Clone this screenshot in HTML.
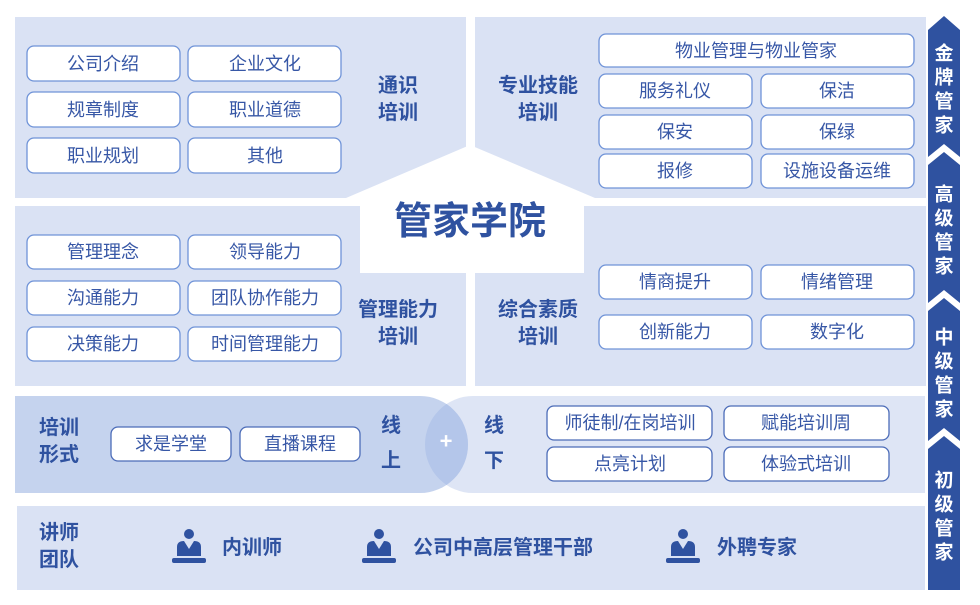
<!DOCTYPE html>
<html><head><meta charset="utf-8">
<style>
html,body{margin:0;padding:0;background:#fff;}
svg{display:block;}
text{font-family:"Liberation Sans","Noto Sans CJK SC",sans-serif;}
.b{fill:#fff;stroke:#6f93d8;stroke-width:1.3;}
.t{fill:#3757a6;font-size:18px;text-anchor:middle;dominant-baseline:central;}
.h{fill:#2f52a0;font-size:20px;font-weight:bold;text-anchor:middle;dominant-baseline:central;}
.v{fill:#fff;font-size:19px;font-weight:bold;text-anchor:middle;dominant-baseline:central;}
</style></head><body>
<svg width="980" height="605" viewBox="0 0 980 605" xmlns="http://www.w3.org/2000/svg">
<!-- panels -->
<rect x="15" y="17" width="451" height="181" fill="#dae2f4"/>
<rect x="475" y="17" width="451" height="181" fill="#dae2f4"/>
<rect x="15" y="206" width="451" height="180" fill="#dae2f4"/>
<rect x="475" y="206" width="451" height="180" fill="#dae2f4"/>
<!-- house -->
<polygon points="346,198 470,145 595,198" fill="#fff"/>
<rect x="360" y="196" width="224" height="77" fill="#fff"/>
<text x="470" y="222" fill="#2f52a0" font-size="38" font-weight="bold" text-anchor="middle" dominant-baseline="central">管家学院</text>

<!-- top-left boxes -->
<g>
<rect class="b" x="27" y="46" width="153" height="35" rx="7"/><text class="t" x="103" y="64">公司介绍</text>
<rect class="b" x="188" y="46" width="153" height="35" rx="7"/><text class="t" x="265" y="64">企业文化</text>
<rect class="b" x="27" y="92" width="153" height="35" rx="7"/><text class="t" x="103" y="110">规章制度</text>
<rect class="b" x="188" y="92" width="153" height="35" rx="7"/><text class="t" x="265" y="110">职业道德</text>
<rect class="b" x="27" y="138" width="153" height="35" rx="7"/><text class="t" x="103" y="156">职业规划</text>
<rect class="b" x="188" y="138" width="153" height="35" rx="7"/><text class="t" x="265" y="156">其他</text>
</g>
<text class="h" x="398" y="86">通识</text><text class="h" x="398" y="113">培训</text>
<text class="h" x="538" y="86">专业技能</text><text class="h" x="538" y="113">培训</text>

<!-- top-right boxes -->
<rect class="b" x="599" y="34" width="315" height="33" rx="7"/><text class="t" x="756" y="51">物业管理与物业管家</text>
<rect class="b" x="599" y="74" width="153" height="34" rx="7"/><text class="t" x="675" y="91">服务礼仪</text>
<rect class="b" x="761" y="74" width="153" height="34" rx="7"/><text class="t" x="837" y="91">保洁</text>
<rect class="b" x="599" y="115" width="153" height="34" rx="7"/><text class="t" x="675" y="132">保安</text>
<rect class="b" x="761" y="115" width="153" height="34" rx="7"/><text class="t" x="837" y="132">保绿</text>
<rect class="b" x="599" y="154" width="153" height="34" rx="7"/><text class="t" x="675" y="171">报修</text>
<rect class="b" x="761" y="154" width="153" height="34" rx="7"/><text class="t" x="837" y="171">设施设备运维</text>

<!-- middle-left boxes -->
<rect class="b" x="27" y="235" width="153" height="34" rx="7"/><text class="t" x="103" y="252">管理理念</text>
<rect class="b" x="188" y="235" width="153" height="34" rx="7"/><text class="t" x="265" y="252">领导能力</text>
<rect class="b" x="27" y="281" width="153" height="34" rx="7"/><text class="t" x="103" y="298">沟通能力</text>
<rect class="b" x="188" y="281" width="153" height="34" rx="7"/><text class="t" x="265" y="298">团队协作能力</text>
<rect class="b" x="27" y="327" width="153" height="34" rx="7"/><text class="t" x="103" y="344">决策能力</text>
<rect class="b" x="188" y="327" width="153" height="34" rx="7"/><text class="t" x="265" y="344">时间管理能力</text>
<text class="h" x="398" y="310">管理能力</text><text class="h" x="398" y="337">培训</text>
<text class="h" x="538" y="310">综合素质</text><text class="h" x="538" y="337">培训</text>

<!-- middle-right boxes -->
<rect class="b" x="599" y="265" width="153" height="34" rx="7"/><text class="t" x="675" y="282">情商提升</text>
<rect class="b" x="761" y="265" width="153" height="34" rx="7"/><text class="t" x="837" y="282">情绪管理</text>
<rect class="b" x="599" y="315" width="153" height="34" rx="7"/><text class="t" x="675" y="332">创新能力</text>
<rect class="b" x="761" y="315" width="153" height="34" rx="7"/><text class="t" x="837" y="332">数字化</text>

<!-- training row -->
<defs>
<clipPath id="lc"><path d="M15,396 H420 A48,48.5 0 0 1 420,493 H15 Z"/></clipPath>
</defs>
<path d="M473,396 H925 V493 H473 A48,48.5 0 0 1 473,396 Z" fill="#dee5f5"/>
<path d="M15,396 H420 A48,48.5 0 0 1 420,493 H15 Z" fill="#c5d3ee"/>
<path d="M473,396 H925 V493 H473 A48,48.5 0 0 1 473,396 Z" fill="#b4c6ea" clip-path="url(#lc)"/>
<text x="446" y="441" fill="#fff" font-size="22" font-weight="bold" text-anchor="middle" dominant-baseline="central">+</text>
<text class="h" x="59" y="428">培训</text><text class="h" x="59" y="455">形式</text>
<rect class="b" x="111" y="427" width="120" height="34" rx="7" style="stroke:#4c6cb8"/><text class="t" x="171" y="444">求是学堂</text>
<rect class="b" x="240" y="427" width="120" height="34" rx="7" style="stroke:#4c6cb8"/><text class="t" x="300" y="444">直播课程</text>
<text class="h" x="391" y="426">线</text><text class="h" x="391" y="461">上</text>
<text class="h" x="494" y="426">线</text><text class="h" x="494" y="461">下</text>
<rect class="b" x="547" y="406" width="165" height="34" rx="7" style="stroke:#4c6cb8"/><text class="t" x="630" y="423">师徒制/在岗培训</text>
<rect class="b" x="724" y="406" width="165" height="34" rx="7" style="stroke:#4c6cb8"/><text class="t" x="806" y="423">赋能培训周</text>
<rect class="b" x="547" y="447" width="165" height="34" rx="7" style="stroke:#4c6cb8"/><text class="t" x="630" y="464">点亮计划</text>
<rect class="b" x="724" y="447" width="165" height="34" rx="7" style="stroke:#4c6cb8"/><text class="t" x="806" y="464">体验式培训</text>

<!-- teacher row -->
<rect x="17" y="506" width="908" height="84" fill="#dae2f4"/>
<text class="h" x="59" y="533">讲师</text><text class="h" x="59" y="560">团队</text>
<g fill="#2f52a0">
<g transform="translate(189,0)">
<circle cx="0" cy="534" r="5"/>
<path d="M-12,556 V547 Q-12,541 -5,541 L0,549 L5,541 Q12,541 12,547 V556 Z"/>
<rect x="-17" y="558" width="34" height="5" rx="2"/>
</g>
<g transform="translate(379,0)">
<circle cx="0" cy="534" r="5"/>
<path d="M-12,556 V547 Q-12,541 -5,541 L0,549 L5,541 Q12,541 12,547 V556 Z"/>
<rect x="-17" y="558" width="34" height="5" rx="2"/>
</g>
<g transform="translate(683,0)">
<circle cx="0" cy="534" r="5"/>
<path d="M-12,556 V547 Q-12,541 -5,541 L0,549 L5,541 Q12,541 12,547 V556 Z"/>
<rect x="-17" y="558" width="34" height="5" rx="2"/>
</g>
</g>
<text class="h" x="222" y="548" style="text-anchor:start">内训师</text>
<text class="h" x="413" y="548" style="text-anchor:start">公司中高层管理干部</text>
<text class="h" x="717" y="548" style="text-anchor:start">外聘专家</text>

<!-- right ladder -->
<g fill="#2f52a0">
<polygon points="928,30 944,16 960,30 960,157 944,144 928,157"/>
<polygon points="928,165 944,152 960,165 960,303 944,290 928,303"/>
<polygon points="928,311 944,298 960,311 960,441 944,428 928,441"/>
<polygon points="928,449 944,436 960,449 960,590 928,590"/>
</g>
<text class="v" x="944" y="54">金</text><text class="v" x="944" y="78">牌</text><text class="v" x="944" y="102">管</text><text class="v" x="944" y="126">家</text>
<text class="v" x="944" y="195">高</text><text class="v" x="944" y="219">级</text><text class="v" x="944" y="243">管</text><text class="v" x="944" y="267">家</text>
<text class="v" x="944" y="338">中</text><text class="v" x="944" y="362">级</text><text class="v" x="944" y="386">管</text><text class="v" x="944" y="410">家</text>
<text class="v" x="944" y="481">初</text><text class="v" x="944" y="505">级</text><text class="v" x="944" y="529">管</text><text class="v" x="944" y="553">家</text>
</svg>
</body></html>
